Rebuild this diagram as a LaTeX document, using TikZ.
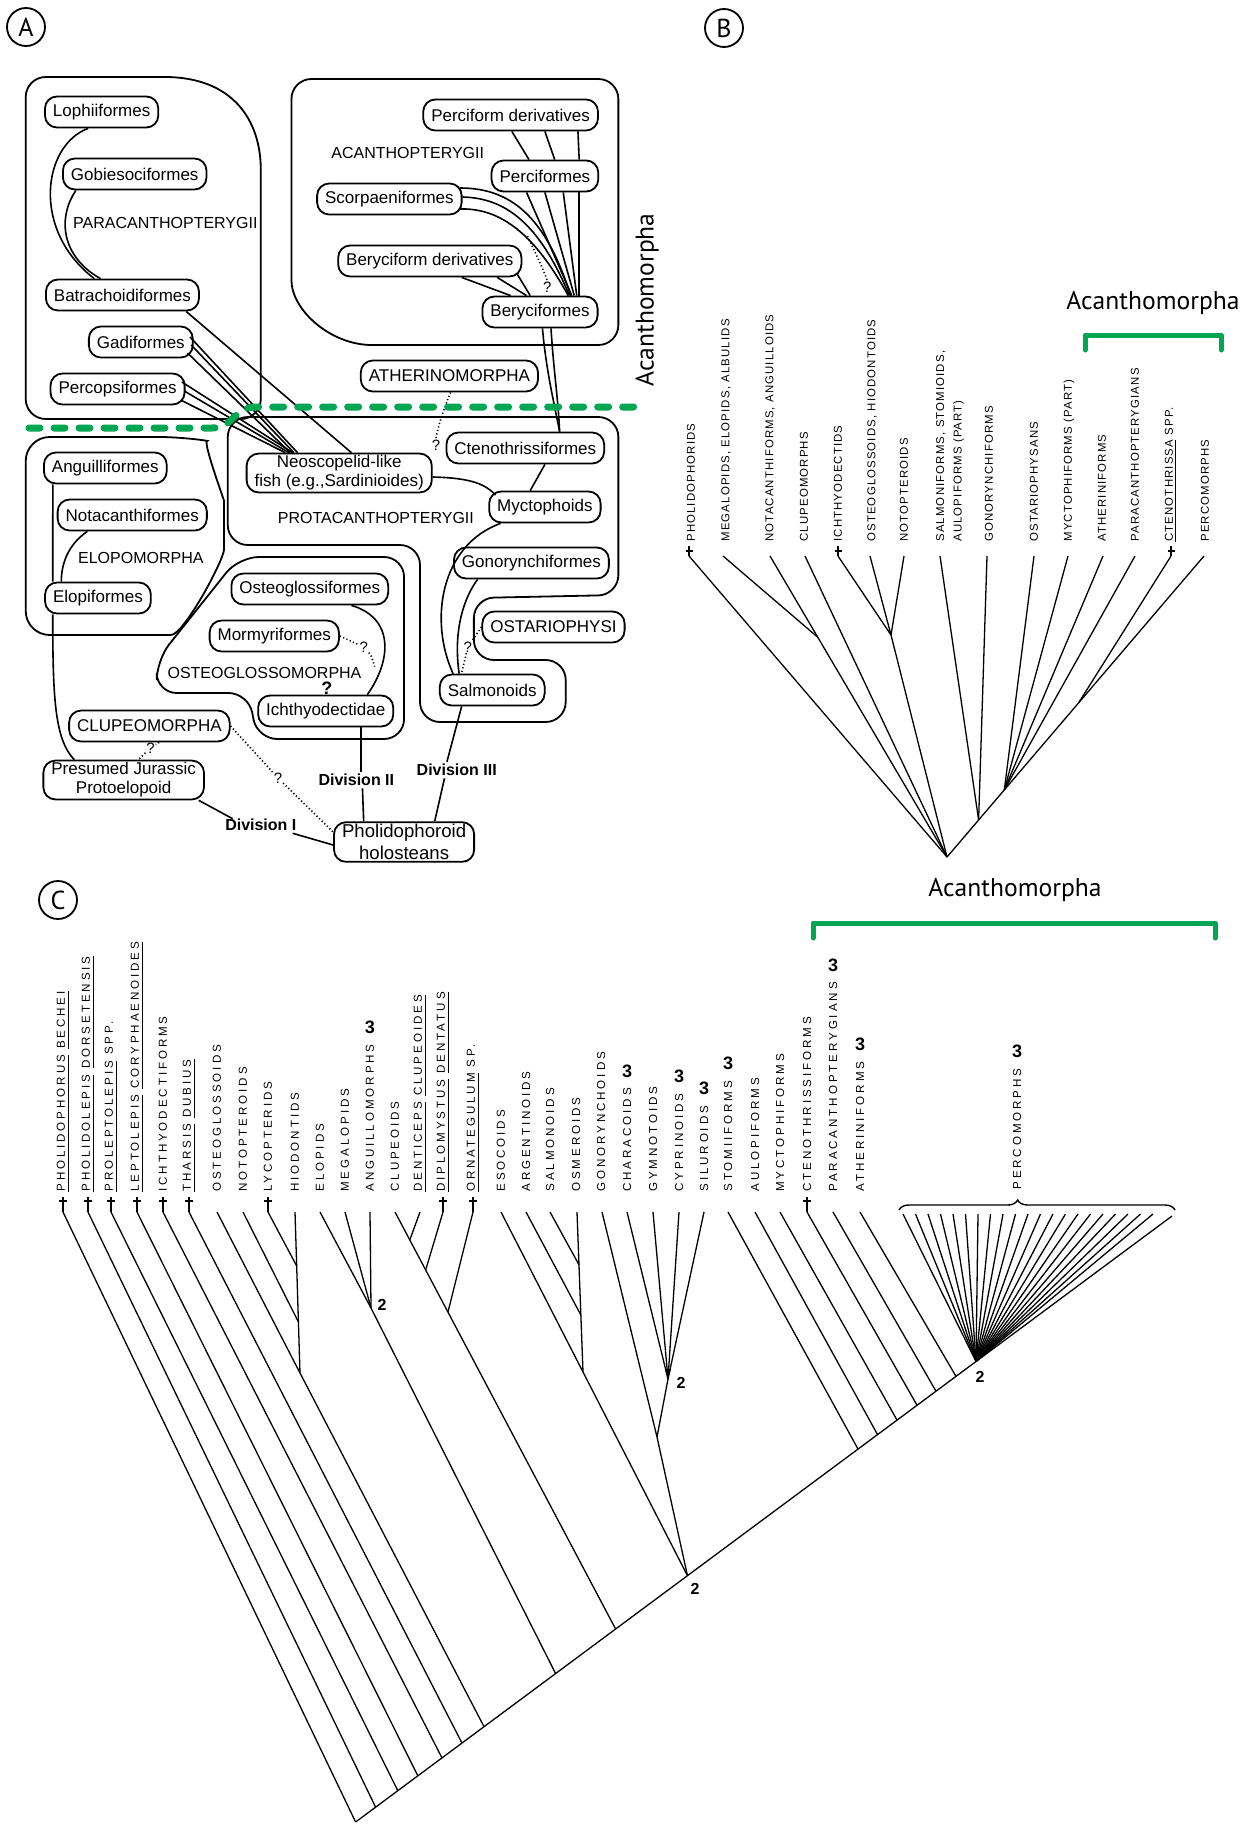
\documentclass[tikz,border=0pt]{standalone}
\usepackage{fontspec}
\setmainfont{Liberation Sans}
\newfontfamily\afont{Liberation Sans}
\newfontfamily\bfontsp[LetterSpace=10]{Liberation Sans}
\newfontfamily\cfontsp[LetterSpace=25]{Liberation Sans}
\newfontfamily\hfont{PT Sans}
\usetikzlibrary{calc,decorations.pathreplacing}
\definecolor{grn}{RGB}{0,166,81}
\tikzset{
 abox/.style={draw, line width=0.9pt, rounded corners=6pt, minimum height=15.5pt, inner xsep=4pt, inner ysep=1pt, font=\afont\fontsize{8.5}{9.5}\selectfont},
 grp/.style={draw, line width=0.9pt},
 glab/.style={font=\afont\fontsize{8}{9}\selectfont, inner sep=1pt},
 divl/.style={font=\afont\bfseries\fontsize{8}{9}\selectfont, inner sep=1pt},
 con/.style={line width=0.8pt},
 dotl/.style={line width=0.8pt, dash pattern=on 0.6pt off 1.2pt},
 qm/.style={font=\afont\fontsize{7.5}{8}\selectfont, inner sep=0.3pt},
 blab/.style={rotate=90, anchor=west, inner sep=0pt, font=\bfontsp\fontsize{5.7}{8.8}\selectfont},
 clab/.style={rotate=90, anchor=west, inner sep=0pt, font=\cfontsp\fontsize{5.8}{7}\selectfont},
 threel/.style={font=\bfseries\fontsize{9}{10}\selectfont, inner sep=0pt, anchor=south},
 twol/.style={font=\bfseries\fontsize{8}{9}\selectfont, inner sep=0pt},
 trl/.style={line width=0.65pt},
 circlab/.style={draw, circle, line width=0.9pt, minimum size=19pt, inner sep=0pt, font=\hfont\fontsize{13}{14}\selectfont},
 hlab/.style={font=\hfont\fontsize{12.8}{14}\selectfont, inner sep=0pt},
 gdash/.style={grn, line width=3.5pt, line cap=round, dash pattern=on 5.5pt off 7pt},
 gbr/.style={grn, line width=2.5pt, line cap=round, line join=round},
 dagc/.pic={\draw[line width=0.6pt] (0,-15) -- (0,0); \draw[line width=0.6pt] (-4,-11) -- (4,-11);},
 dagb/.pic={\draw[line width=0.6pt] (0,-10) -- (0,0); \draw[line width=0.6pt] (-3.5,-5) -- (3.5,-5);},
}
\begin{document}
\begin{tikzpicture}[x=0.5pt,y=-0.5pt]
\fill[white] (0,0) rectangle (1255,1825);
\useasboundingbox (0,0) rectangle (1255,1825);

% ---------- panel letters
\node[circlab] (cA) at (26,27) {A};
\node[circlab] (cB) at (724,28) {B};
\node[circlab] (cC) at (58,900) {C};

% ================= PANEL A =================
\begin{scope}[x=0.61225pt]
% group outlines
\draw[grp, rounded corners=10pt] (21,250) -- (21,77) -- (118,77) .. controls (190,77) and (213,120) .. (213,190) -- (213,419) -- (21,419) -- cycle;
\draw[grp, rounded corners=10pt] (238,200) -- (238,79) -- (505,79) -- (505,345) -- (320,345) .. controls (270,345) and (238,310) .. (238,260) -- cycle;
\draw[grp, rounded corners=12pt] (21,540) -- (21,437) -- (150,437) .. controls (165,440) and (183,500) .. (183,525) .. controls (183,560) and (150,635) .. (120,635) -- (21,635) -- cycle;
\draw[grp, rounded corners=10pt] (186,480) -- (186,417) -- (505,417) -- (505,595) -- (387,598) -- (387,660) -- (462,660) -- (462,722) -- (343,722) -- (343,545) -- (186,545) -- cycle;
\draw[grp, rounded corners=10pt] (260,557) -- (330,557) -- (330,739) -- (210,739) -- (203,693) -- (128,693) -- (128,660) -- (195,557) -- cycle;

% boxes
\node[abox] (loph) at (83,112) {Lophiiformes};
\node[abox] (gobi) at (110,174) {Gobiesociformes};
\node[abox] (batr) at (100,295) {Batrachoidiformes};
\node[abox] (gadi) at (115,342) {Gadiformes};
\node[abox] (percop) at (96,389) {Percopsiformes};
\node[abox] (pder) at (417,115) {Perciform derivatives};
\node[abox] (pcf) at (445,176) {Perciformes};
\node[abox] (scorp) at (318,199) {Scorpaeniformes};
\node[abox] (bder) at (351,261) {Beryciform derivatives};
\node[abox] (bery) at (441,312) {Beryciformes};
\node[abox] (ather) at (367,376) {ATHERINOMORPHA};
\node[abox] (angu) at (86,468) {Anguilliformes};
\node[abox] (nota) at (108,515) {Notacanthiformes};
\node[abox] (elop) at (80,598) {Elopiformes};
\node[abox, align=center] (neo) at (277,473) {Neoscopelid-like\\fish (e.g.,Sardinioides)};
\node[abox] (cten) at (429,448) {Ctenothrissiformes};
\node[abox] (myct) at (445,507) {Myctophoids};
\node[abox] (gono) at (434,563) {Gonorynchiformes};
\node[abox] (ostar) at (452,627) {OSTARIOPHYSI};
\node[abox] (salm) at (402,690) {Salmonoids};
\node[abox] (osteo) at (253,589) {Osteoglossiformes};
\node[abox] (morm) at (224,636) {Mormyriformes};
\node[abox] (ichth) at (266,711) {Ichthyodectidae};
\node[abox] (clup) at (122,726) {CLUPEOMORPHA};
\node[abox, align=center] (presum) at (101,780) {Presumed Jurassic\\Protoelopoid};
\node[abox, align=center, font=\afont\fontsize{9.3}{11}\selectfont] (phol) at (330,842) {Pholidophoroid\\holosteans};

% group labels
\node[glab] (paraT) at (135,223) {PARACANTHOPTERYGII};
\node[glab] (acanT) at (333,153) {ACANTHOPTERYGII};
\node[glab] (eloT) at (115,558) {ELOPOMORPHA};
\node[glab] (protT) at (307,518) {PROTACANTHOPTERYGII};
\node[glab] (osteoT) at (216,673) {OSTEOGLOSSOMORPHA};
\node[divl] (div1) at (213,825) {Division I};
\node[divl] (div2) at (291,780) {Division II};
\node[divl] (div3) at (373,770) {Division III};

% question marks
\node[qm] (q1) at (447,287) {?};
\node[qm] (q2) at (356,445) {?};
\node[qm] (q3) at (382,647) {?};
\node[qm] (q4) at (297,647) {?};
\node[qm, font=\afont\bfseries\fontsize{9}{10}\selectfont] (q5) at (267,688) {?};
\node[qm] (q6) at (227,778) {?};
\node[qm] (q7) at (123,748) {?};

% connectors panel A
\draw[con] ($(loph.south)+(-11,0)$) .. controls (35,145) and (25,230) .. ($(batr.north)+(-23,0)$);
\draw[con] ($(gobi.south)+(-48,0)$) .. controls (48,215) and (48,255) .. ($(batr.north)+(-18,0)$);
\draw[con] ($(batr.south)+(52,0)$) -- ($(neo.north)+(10,0)$);
\draw[con] ($(gadi.east)+(-3,-5)$) -- ($(neo.north)+(-34,0)$);
\draw[con] ($(gadi.east)+(-2,3)$) -- ($(neo.north)+(-37,0)$);
\draw[con] ($(gadi.east)+(-5,11)$) -- ($(neo.north)+(-40,0)$);
\draw[con] ($(percop.east)+(-3,-7)$) -- ($(neo.north)+(-38,0)$);
\draw[con] ($(percop.east)+(-1,2)$) -- ($(neo.north)+(-41,0)$);
\draw[con] ($(percop.east)+(-4,11)$) -- ($(neo.north)+(-44,0)$);

\draw[con] ($(pder.south)+(1,0)$) -- ($(pcf.north)+(-13,0)$);
\draw[con] ($(pder.south)+(28,0)$) -- ($(pcf.north)+(8,0)$);
\draw[con] ($(pder.south)+(55,0)$) -- ($(pcf.north)+(28,0)$);
\draw[con] ($(pcf.south)+(-15,0)$) -- ($(bery.north)+(26,0)$);
\draw[con] ($(pcf.south)+(0,0)$) -- ($(bery.north)+(28,0)$);
\draw[con] ($(pcf.south)+(15,0)$) -- ($(bery.north)+(30,0)$);
\draw[con] ($(pcf.south)+(28,0)$) -- ($(bery.north)+(32,0)$);
\draw[con] ($(scorp.east)+(-2,-11)$) .. controls (418,188) and (446,218) .. ($(bery.north)+(25,0)$);
\draw[con] ($(scorp.east)+(0,-2)$) .. controls (412,198) and (440,222) .. ($(bery.north)+(24,0)$);
\draw[con] ($(scorp.east)+(-2,10)$) .. controls (405,208) and (434,228) .. ($(bery.north)+(23,0)$);
\draw[dotl] ($(scorp.east)+(53,37)$) .. controls (438,255) and (444,270) .. (q1.north);
\draw[con] ($(bder.south)+(26,0)$) -- ($(bery.north)+(-24,0)$);
\draw[con] ($(bder.south)+(55,0)$) -- ($(bery.north)+(-11,0)$);
\draw[con] ($(bder.south east)+(-4,-3)$) -- ($(bery.north)+(-8,0)$);
\draw[con] ($(bery.south)+(2,0)$) .. controls (446,370) and (452,400) .. ($(cten.north)+(28,0)$);
\draw[con] ($(bery.south)+(9,0)$) .. controls (452,370) and (456,400) .. ($(cten.north)+(28,0)$);
\draw[dotl] ($(ather.south)+(1,0)$) .. controls (362,410) and (358,425) .. (q2.north);
\draw[con] ($(cten.south)+(16,0)$) -- ($(myct.north)+(-12,0)$);
\draw[con] ($(neo.east)+(0,4)$) .. controls (385,478) and (396,484) .. ($(myct.west)+(6,-12)$);
\draw[con] ($(myct.south west)+(10,0)$) .. controls (360,545) and (350,620) .. ($(salm.north)+(-32,0)$);
\draw[con] ($(gono.south)+(-44,0)$) .. controls (372,610) and (372,650) .. ($(salm.north)+(-27,0)$);
\draw[dotl] (ostar.west) -- (q3) -- ($(salm.north)+(-25,0)$);
\draw[con] ($(salm.south)+(-25,0)$) -- ($(div3.north)+(-8,0)$);
\draw[con] ($(div3.south)+(-10,0)$) -- ($(phol.north)+(25,0)$);
\draw[con] ($(osteo.south)+(34,0)$) .. controls (322,618) and (320,660) .. ($(ichth.north)+(34,0)$);
\draw[dotl] (morm.east) -- (q4);
\draw[dotl] (q4) .. controls (303,655) .. ($(ichth.north)+(40,-28)$);
\draw[con] ($(ichth.south)+(29,0)$) -- ($(div2.north)+(4,0)$);
\draw[con] ($(div2.south)+(5,0)$) -- ($(phol.north)+(-33,0)$);
\draw[con] ($(presum.south east)+(-5,0)$) -- ($(div1.north west)+(8,2)$);
\draw[con] ($(div1.south east)+(-5,0)$) -- ($(phol.west)+(0,3)$);
\draw[dotl] (clup.east) -- (q6) -- ($(phol.west)+(0,-10)$);
\draw[dotl] ($(clup.south)+(8,0)$) -- (q7) -- ($(presum.north)+(12,0)$);
\draw[con] ($(angu.south west)+(8,0)$) -- ($(elop.north west)+(7,0)$);
\draw[con] ($(elop.south west)+(7,0)$) .. controls (43,700) and (45,740) .. ($(presum.north west)+(26,0)$);
\draw[con] ($(nota.south west)+(25,0)$) .. controls (55,545) and (50,565) .. ($(elop.north west)+(14,0)$);
\end{scope}

\node[hlab, rotate=90] (acA) at (647,300) {Acanthomorpha};
% green dashed line
\draw[gdash] (29,428) -- (212,428) .. controls (235,428) and (232,407) .. (257,407) -- (646,407);

% ================= PANEL B =================
\node[hlab] (acB) at (1153,303) {Acanthomorpha};
\draw[gbr] (1085,350) -- (1085,335) -- (1221,335) -- (1221,350);

\node[blab] (bl1) at (691,542) {PHOLIDOPHORIDS};
\node[blab] (bl2) at (726,542) {MEGALOPIDS, ELOPIDS, ALBULIDS};
\node[blab] (bl3) at (770,542) {NOTACANTHIFORMS, ANGUILLOIDS};
\node[blab] (bl4) at (804,542) {CLUPEOMORPHS};
\node[blab] (bl5) at (838,542) {ICHTHYODECTIDS};
\node[blab] (bl6) at (872,542) {OSTEOGLOSSOIDS, HIODONTOIDS};
\node[blab] (bl7) at (904,542) {NOTOPTEROIDS};
\node[blab, align=left] (bl8) at (950,542) {SALMONIFORMS, STOMIOIDS,\\AULOPIFORMS (PART)};
\node[blab] (bl9) at (989,542) {GONORYNCHIFORMS};
\node[blab] (bl10) at (1034,542) {OSTARIOPHYSANS};
\node[blab] (bl11) at (1069,542) {MYCTOPHIFORMS (PART)};
\node[blab] (bl12) at (1102,542) {ATHERINIFORMS};
\node[blab] (bl13) at (1135,542) {PARACANTHOPTERYGIANS};
\node[blab] (bl14) at (1171,542) {\underline{CTENOTHRISSA} SPP.};
\node[blab] (bl15) at (1205,542) {PERCOMORPHS};

\foreach \n/\x in {1/689,2/723,3/770,4/805,5/838,6/870,7/904,8/940,9/987,10/1034,11/1068,12/1103,13/1135,14/1171,15/1204}
  \coordinate (bt\n) at (\x,556);
\coordinate (bR) at (947,857);
\coordinate (bM1) at ($(bt3)!0.27!(bR)$);
\coordinate (bO1) at (891,635);
\coordinate (bN1) at ($(bR)!0.123!(bt15)$);
\coordinate (bP2) at ($(bR)!0.223!(bt15)$);
\coordinate (bP1) at ($(bR)!0.512!(bt15)$);
\draw[trl] (bt1) -- (bR);
\draw[trl] (bt2) -- (bM1);
\draw[trl] (bt3) -- (bR);
\draw[trl] (bt4) -- (bR);
\draw[trl] (bt5) -- (bO1);
\draw[trl] (bt6) -- (bO1);
\draw[trl] (bt7) -- (bO1);
\draw[trl] (bO1) -- (bR);
\draw[trl] (bR) -- (bt15);
\draw[trl] (bt8) -- (bN1);
\draw[trl] (bt9) -- (bN1);
\draw[trl] (bt10) -- (bP2);
\draw[trl] (bt11) -- (bP2);
\draw[trl] (bt12) -- (bP2);
\draw[trl] (bt13) -- (bP2);
\draw[trl] (bt14) -- (bP1);
\pic at (bt1) {dagb};
\pic at (bt5) {dagb};
\pic at (bt14) {dagb};

% ================= PANEL C =================
\node[hlab] (acC) at (1015,890) {Acanthomorpha};
\draw[gbr] (813,938) -- (813,923) -- (1215,923) -- (1215,938);

\node[clab] (cl1) at (63,1192) {\underline{PHOLIDOPHORUS} \underline{BECHEI}};
\node[clab] (cl2) at (88,1192) {\underline{PHOLIDOLEPIS} \underline{DORSETENSIS}};
\node[clab] (cl3) at (111,1192) {\underline{PROLEPTOLEPIS} SPP.};
\node[clab] (cl4) at (137,1192) {\underline{LEPTOLEPIS} \underline{CORYPHAENOIDES}};
\node[clab] (cl5) at (163,1192) {ICHTHYODECTIFORMS};
\node[clab] (cl6) at (189,1192) {\underline{THARSIS} \underline{DUBIUS}};
\node[clab] (cl7) at (217,1192) {OSTEOGLOSSOIDS};
\node[clab] (cl8) at (243,1192) {NOTOPTEROIDS};
\node[clab] (cl9) at (268,1192) {LYCOPTERIDS};
\node[clab] (cl10) at (295,1192) {HIODONTIDS};
\node[clab] (cl11) at (320,1192) {ELOPIDS};
\node[clab] (cl12) at (345,1192) {MEGALOPIDS};
\node[clab] (cl13) at (370,1192) {ANGUILLOMORPHS};
\node[clab] (cl14) at (395,1192) {CLUPEOIDS};
\node[clab] (cl15) at (420,1192) {\underline{DENTICEPS} \underline{CLUPEOIDES}};
\node[clab] (cl16) at (443,1192) {\underline{DIPLOMYSTUS} \underline{DENTATUS}};
\node[clab] (cl17) at (473,1192) {\underline{ORNATEGULUM} SP.};
\node[clab] (cl18) at (501,1192) {ESOCOIDS};
\node[clab] (cl19) at (526,1192) {ARGENTINOIDS};
\node[clab] (cl20) at (550,1192) {SALMONOIDS};
\node[clab] (cl21) at (576,1192) {OSMEROIDS};
\node[clab] (cl22) at (601,1192) {GONORYNCHOIDS};
\node[clab] (cl23) at (627,1192) {CHARACOIDS};
\node[clab] (cl24) at (653,1192) {GYMNOTOIDS};
\node[clab] (cl25) at (679,1192) {CYPRINOIDS};
\node[clab] (cl26) at (704,1192) {SILUROIDS};
\node[clab] (cl27) at (728,1192) {STOMIIFORMS};
\node[clab] (cl28) at (755,1192) {AULOPIFORMS};
\node[clab] (cl29) at (780,1192) {MYCTOPHIFORMS};
\node[clab] (cl30) at (807,1192) {CTENOTHRISSIFORMS};
\node[clab] (cl31) at (833,1192) {PARACANTHOPTERYGIANS};
\node[clab] (cl32) at (860,1192) {ATHERINIFORMS};
\node[clab] (cl33) at (1017,1190) {PERCOMORPHS};

\node[threel] (th13) at ($(cl13.east)+(0,-10)$) {3};
\node[threel] (th23) at ($(cl23.east)+(0,-10)$) {3};
\node[threel] (th25) at ($(cl25.east)+(0,-10)$) {3};
\node[threel] (th26) at ($(cl26.east)+(0,-10)$) {3};
\node[threel] (th27) at ($(cl27.east)+(0,-10)$) {3};
\node[threel] (th31) at ($(cl31.east)+(0,-10)$) {3};
\node[threel] (th32) at ($(cl32.east)+(0,-10)$) {3};
\node[threel] (th33) at ($(cl33.east)+(0,-10)$) {3};

\foreach \n/\x in {1/63,2/88,3/111,4/137,5/163,6/189,7/217,8/243,9/268,10/295,11/320,12/345,13/370,14/395,15/420,16/443,17/473,18/501,19/526,20/550,21/577,22/602,23/627,24/653,25/679,26/704,27/728,28/755,29/780,30/807,31/833,32/860}
  \coordinate (c\n) at (\x,1212);

\coordinate (root) at (355.6,1822);
\coordinate (rend) at (1172,1216);
\coordinate (b2) at ($(root)!0.0245!(rend)$);
\coordinate (b3) at ($(root)!0.0517!(rend)$);
\coordinate (b4) at ($(root)!0.0762!(rend)$);
\coordinate (b5) at ($(root)!0.1058!(rend)$);
\coordinate (b6) at ($(root)!0.1303!(rend)$);
\coordinate (bOS) at ($(root)!0.1573!(rend)$);
\coordinate (bEL) at ($(root)!0.245!(rend)$);
\coordinate (bCL) at ($(root)!0.3185!(rend)$);
\coordinate (E) at ($(root)!0.4065!(rend)$);
\coordinate (bST) at ($(root)!0.6154!(rend)$);
\coordinate (bAU) at ($(root)!0.6393!(rend)$);
\coordinate (bMY) at ($(root)!0.6632!(rend)$);
\coordinate (bCT) at ($(root)!0.6877!(rend)$);
\coordinate (bPA) at ($(root)!0.7109!(rend)$);
\coordinate (bAT) at ($(root)!0.7354!(rend)$);
\coordinate (P) at ($(root)!0.7599!(rend)$);

\coordinate (H) at (300,1373);
\coordinate (Nel) at (371,1308);
\coordinate (Q) at (583,1372);
\coordinate (W) at (668,1379);
\coordinate (J) at (657,1437);

\draw[trl] (root) -- (rend);
\draw[trl] (c1) -- (root);
\draw[trl] (c2) -- (b2);
\draw[trl] (c3) -- (b3);
\draw[trl] (c4) -- (b4);
\draw[trl] (c5) -- (b5);
\draw[trl] (c6) -- (b6);
% osteoglossomorphs
\draw[trl] (c10) -- (H) -- (bOS);
\draw[trl] (c7) -- (H);
\draw[trl] (c8) -- ($(c10)!0.683!(H)$);
\draw[trl] (c9) -- ($(c10)!0.335!(H)$);
% elopomorphs
\draw[trl] (c11) -- (Nel);
\draw[trl] (c12) -- (Nel);
\draw[trl] (c13) -- (Nel);
\draw[trl] (Nel) -- (bEL);
% clupeomorphs
\draw[trl] (c14) -- (bCL);
\draw[trl] (c15) -- ($(c14)!0.067!(bCL)$);
\draw[trl] (c16) -- ($(c14)!0.139!(bCL)$);
\draw[trl] (c17) -- ($(c14)!0.24!(bCL)$);
% euteleosts
\draw[trl] (c21) -- (Q) -- (E);
\draw[trl] (c20) -- ($(c21)!0.33!(Q)$);
\draw[trl] (c19) -- ($(c21)!0.644!(Q)$);
\draw[trl] (c18) -- (Q);
\draw[trl] (c23) -- (W);
\draw[trl] (c24) -- (W);
\draw[trl] (c25) -- (W);
\draw[trl] (c26) -- (W);
\draw[trl] (W) -- (J) -- (E);
\draw[trl] (c22) -- (J);
\fill ($(W)+(-3,-10)$) -- ($(W)+(3,-10)$) -- (W) -- cycle;
% neoteleosts
\draw[trl] (c27) -- (bST);
\draw[trl] (c28) -- (bAU);
\draw[trl] (c29) -- (bMY);
\draw[trl] (c30) -- (bCT);
\draw[trl] (c31) -- (bPA);
\draw[trl] (c32) -- (bAT);
% percomorph fan
\foreach \i in {0,...,20}
  \draw[trl] ($(903,1214)+(\i*12.5,0)$) -- (P);
\draw[decorate, decoration={brace, amplitude=5pt, aspect=0.43}, line width=0.7pt] (899,1210) -- (1175,1210);

% daggers
\foreach \n in {1,2,3,4,5,6,9,16,17,30}
  \pic at (c\n) {dagc};

% node numbers
\node[twol] (two1) at (382,1305) {2};
\node[twol] (two2) at (681,1383) {2};
\node[twol] (two3) at (695,1589) {2};
\node[twol] (two4) at (980,1377) {2};

\end{tikzpicture}
\end{document}
